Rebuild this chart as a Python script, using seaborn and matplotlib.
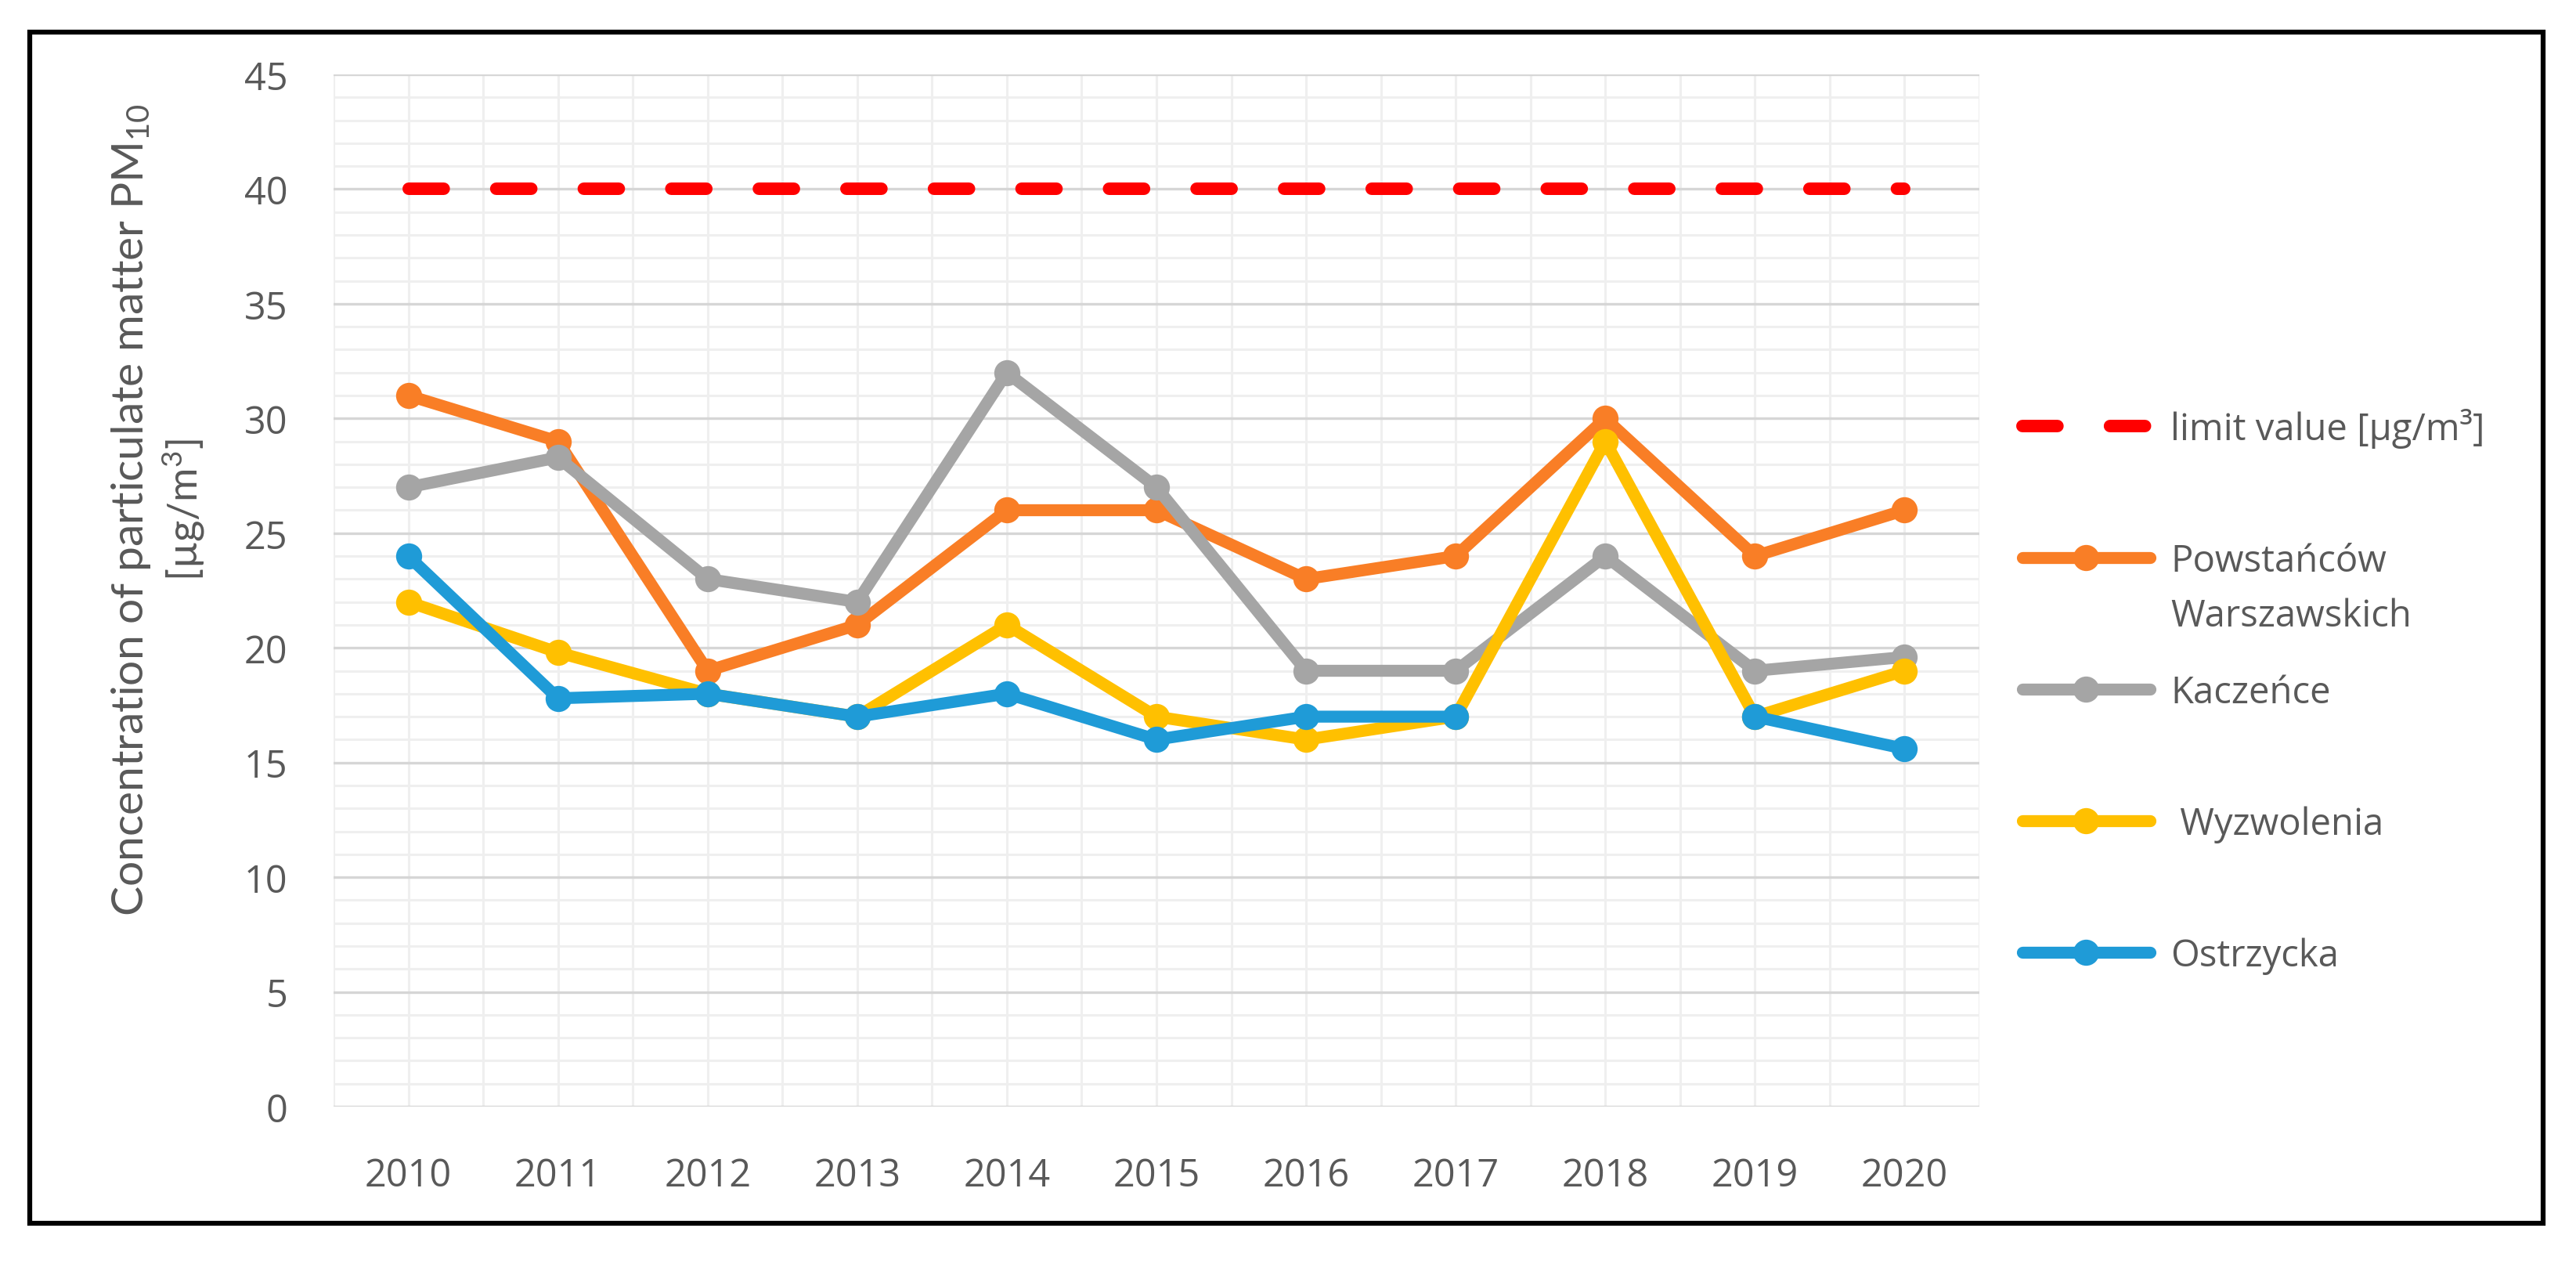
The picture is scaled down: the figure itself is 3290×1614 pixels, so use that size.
import numpy as np
import pandas as pd
import seaborn as sns
import matplotlib
matplotlib.use("Agg")
from matplotlib import pyplot as plt
from matplotlib.patches import Rectangle
from matplotlib.ticker import MultipleLocator

years = [2010, 2011, 2012, 2013, 2014, 2015, 2016, 2017, 2018, 2019, 2020]
limit_value = [40, 40, 40, 40, 40, 40, 40, 40, 40, 40, 40]
powstancow = [31, 29, 19, 21, 26, 26, 23, 24, 30, 24, 26]
kaczence = [27, 28.3, 23, 22, 32, 27, 19, 19, 24, 19, 19.6]
wyzwolenia = [22, 19.8, 18, 17, 21, 17, 16, 17, 29, 17, 19]
ostrzycka = [24, 17.8, 18, 17, 18, 16, 17, 17, np.nan, 17, 15.6]

labels = ["limit value [µg/m³]", "Powstańców", "Kaczeńce",
          " Wyzwolenia", "Ostrzycka"]
label_second_line = "Warszawskich"
colors = ["#FF0000", "#F97E26", "#A5A5A5", "#FFC000", "#1F9BD7"]

sns.set_theme(style="white")
plt.rcParams["font.family"] = ["Open Sans", "DejaVu Sans"]
plt.rcParams["mathtext.fontset"] = "custom"
plt.rcParams["mathtext.rm"] = "Lato"
plt.rcParams["mathtext.it"] = "Lato"
txt = "#595959"

W, H = 3290, 1615
fig = plt.figure(figsize=(W / 100, H / 100), dpi=100)
ax = fig.add_axes([426 / W, 1 - 1414 / H, (2528 - 426) / W, (1414 - 96) / H])

handles = []
# limit line
sns.lineplot(x=years, y=limit_value, ax=ax, color=colors[0], linewidth=11.5,
             legend=False)
lim = ax.lines[-1]
lim.set_dashes((2.8, 4.2))
lim.set_dash_capstyle("round")
handles.append(lim)

series = [powstancow, kaczence, wyzwolenia, ostrzycka]
for vals, col in zip(series, colors[1:]):
    df = pd.DataFrame({"year": years, "val": vals})
    df["seg"] = df["val"].isna().cumsum()
    df = df.dropna()
    n_before = len(ax.lines)
    sns.lineplot(data=df, x="year", y="val", units="seg", estimator=None,
                 ax=ax, color=col, linewidth=11, marker="o",
                 markersize=24, markeredgewidth=0, legend=False)
    for ln in ax.lines[n_before:]:
        ln.set_solid_capstyle("round")
        ln.set_solid_joinstyle("round")
    handles.append(ax.lines[n_before])

ax.set_xlim(2009.5, 2020.5)
ax.set_ylim(0, 45)
ax.xaxis.set_minor_locator(MultipleLocator(0.5))
ax.yaxis.set_major_locator(MultipleLocator(5))
ax.yaxis.set_minor_locator(MultipleLocator(1))
ax.set_xticks(years)
ax.set_xticklabels([str(y) for y in years])
ax.grid(which="minor", axis="both", color="#EFEFEF", lw=2.2, zorder=0)
ax.grid(which="major", axis="x", color="#EFEFEF", lw=2.2, zorder=0)
ax.grid(which="major", axis="y", color="#D6D6D6", lw=2.4, zorder=0)
ax.set_axisbelow(True)
for s in ax.spines.values():
    s.set_visible(False)

ax.tick_params(axis="both", which="both", length=0, colors=txt)
ax.tick_params(axis="y", pad=42)
ax.tick_params(axis="x", pad=46)
for t in ax.get_xticklabels() + ax.get_yticklabels():
    t.set_family(["Open Sans", "DejaVu Sans"])
    t.set_fontsize(35)
    t.set_color(txt)

ax.set_xlabel("")
ax.set_ylabel("Concentration of particulate matter PM$_{10}$",
              fontsize=41, color=txt, family=["Lato", "DejaVu Sans"])
ax.yaxis.label.set_verticalalignment("baseline")
ax.yaxis.set_label_coords((183 - 426) / 2102, 0.579)
ax.text((252 - 426) / 2102, 0.579, "[µg/m$^{3}$]", transform=ax.transAxes,
        rotation=90, rotation_mode="anchor", ha="center", va="baseline",
        fontsize=38, color=txt, family=["Lato", "DejaVu Sans"])

leg = fig.legend(handles, labels, loc="upper left",
                 bbox_to_anchor=(2583 / W, 1 - 522 / H), frameon=False,
                 fontsize=34, handlelength=3.45, handletextpad=0.55,
                 labelspacing=2.55, numpoints=1, borderpad=0,
                 borderaxespad=0)
for t in leg.get_texts():
    t.set_color(txt)

# second line of the two-line legend label, set right under the first
fig.canvas.draw()
bb = leg.get_texts()[1].get_window_extent()
fig.text(bb.x0 / W, (bb.y0 - 70) / H, label_second_line, fontsize=34,
         color=txt, ha="left", va="bottom")

fig.patches.append(Rectangle((38 / W, 1 - 1563 / H),
                             (3248 - 38) / W, (1563 - 42) / H,
                             transform=fig.transFigure, fill=False,
                             edgecolor="black", lw=4.5))

fig.savefig("out.png", dpi=100)
